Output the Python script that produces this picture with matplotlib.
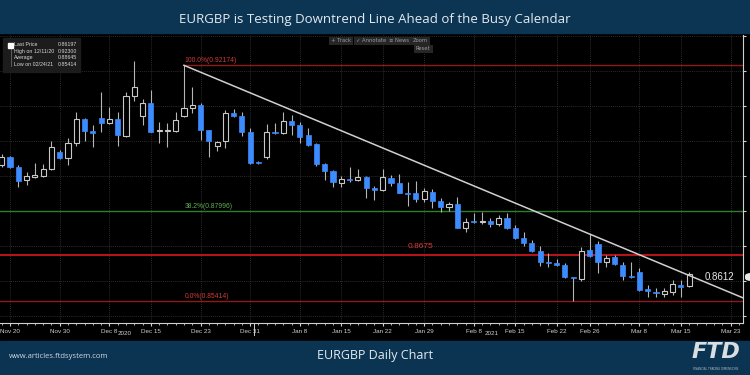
# EURGBP daily candles with fib levels and the downtrend line (FTD style screenshot)

import matplotlib
matplotlib.use('Agg')
import matplotlib.pyplot as plt
from matplotlib.patches import Rectangle, FancyBboxPatch
import matplotlib.transforms as mtransforms
import numpy as np
import pandas as pd

# one candle per business day, first one is 2020-11-19
start_day = '2020-11-19'
opens = [.8932, .8955, .8926, .8889, .8897, .8900, .8920, .8969, .8952, .8995,
         .9064, .9029, .9066, .9052, .9064, .9015, .9130, .9072, .9109, .9029,
         .9029, .9029, .9072, .9095, .9104, .9032, .8986, .9001, .9081, .9072,
         .9026, .8940, .8955, .9026, .9024, .9058, .9046, .9018, .8992, .8935,
         .8915, .8880, .8892, .8889, .8897, .8866, .8860, .8895, .8880, .8852,
         .8852, .8834, .8854, .8829, .8812, .8820, .8751, .8771, .8769, .8771,
         .8763, .8780, .8751, .8723, .8708, .8685, .8654, .8651, .8645, .8611,
         .8605, .8688, .8706, .8654, .8668, .8645, .8614, .8625, .8577, .8568,
         .8562, .8568, .8588, .8585]
highs = [.8963, .8958, .8932, .8912, .8938, .8935, .9001, .8975, .9009, .9084,
         .9066, .9046, .9141, .9098, .9084, .9141, .9230, .9121, .9147, .9055,
         .9052, .9084, .92174, .9155, .9109, .9032, .9001, .9089, .9092, .9084,
         .9038, .8943, .9049, .9052, .9084, .9075, .9055, .9038, .8995, .8938,
         .8918, .8900, .8926, .8920, .8900, .8872, .8920, .8903, .8906, .8883,
         .8886, .8866, .8863, .8837, .8826, .8840, .8780, .8794, .8797, .8780,
         .8789, .8794, .8760, .8740, .8717, .8700, .8680, .8663, .8651, .8611,
         .8697, .8734, .8714, .8674, .8674, .8654, .8654, .8637, .8588, .8579,
         .8579, .8602, .8602, .8625]
lows = [.8926, .8923, .8869, .8875, .8895, .8897, .8917, .8949, .8932, .8986,
        .9001, .8983, .9026, .9049, .8986, .9012, .9115, .9046, .9026, .8995,
        .8983, .9026, .9069, .9081, .9003, .8955, .8972, .8980, .9069, .9015,
        .8935, .8935, .8949, .9021, .9021, .9018, .8995, .8986, .8929, .8889,
        .8869, .8869, .8883, .8886, .8837, .8832, .8857, .8872, .8852, .8814,
        .8826, .8826, .8809, .8797, .8800, .8751, .8740, .8766, .8763, .8754,
        .8757, .8748, .8720, .8700, .8683, .8642, .8640, .8642, .8608, .85414,
        .8600, .8668, .8622, .8640, .8645, .8602, .8608, .8571, .8554, .8554,
        .8554, .8559, .8554, .8582]
closes = [.8955, .8926, .8886, .8900, .8903, .8920, .8983, .8952, .8995, .9064,
          .9029, .9024, .9052, .9064, .9018, .9130, .9155, .9109, .9026, .9032,
          .9032, .9061, .9095, .9104, .9032, .9001, .8998, .9081, .9072, .9026,
          .8938, .8938, .9026, .9024, .9058, .9046, .9012, .8989, .8935, .8915,
          .8883, .8892, .8889, .8897, .8866, .8860, .8897, .8880, .8852, .8849,
          .8834, .8857, .8829, .8812, .8820, .8751, .8769, .8769, .8771, .8763,
          .8780, .8751, .8723, .8708, .8685, .8654, .8651, .8645, .8611, .8608,
          .8685, .8671, .8654, .8665, .8648, .8614, .8611, .8574, .8571, .8565,
          .8571, .8591, .8582, .86197]

tick_dates = ['2020-11-20', '2020-11-30', '2020-12-08', '2020-12-15', '2020-12-23',
              '2020-12-31', '2021-01-08', '2021-01-15', '2021-01-22', '2021-01-29',
              '2021-02-08', '2021-02-15', '2021-02-22', '2021-02-26', '2021-03-08',
              '2021-03-15', '2021-03-23']
tick_labels = ['Nov 20', 'Nov 30', 'Dec 8', 'Dec 15', 'Dec 23', 'Dec 31', 'Jan 8',
               'Jan 15', 'Jan 22', 'Jan 29', 'Feb 8', 'Feb 15', 'Feb 22', 'Feb 26',
               'Mar 8', 'Mar 15', 'Mar 23']

fib_start = '2020-12-21'
fib_levels = [0.92174, 0.87996, 0.85414]
fib_labels = ['100.0%(0.92174)', '38.2%(0.87996)', '0.0%(0.85414)']
resistance = 0.8675
trend_dates = ['2020-12-21', '2021-03-25']
trend_prices = [0.92174, 0.85462]
last_label = 0.8612

legend_names = ['Last Price', 'High on 12/11/20', 'Average', 'Low on 02/24/21']
legend_values = ['0.86197', '0.92300', '0.88645', '0.85414']

days = pd.bdate_range(start_day, '2021-03-31')
pos = np.arange(len(opens))
def day_pos(d):
    return days.get_loc(pd.Timestamp(d))

W, H = 750, 375
fig = plt.figure(figsize=(7.5, 3.75), dpi=100)
fig.patch.set_facecolor('black')

# banners
fig.patches.append(Rectangle((0, 1 - 33 / H), 1, 33 / H, transform=fig.transFigure,
                             color='#0c3553', zorder=0))
grad = fig.add_axes([0, 1 - 34 / H, 1, 9 / H])
grad.imshow(np.linspace(0, 1, 20).reshape(-1, 1), aspect='auto',
            cmap=matplotlib.colors.LinearSegmentedColormap.from_list('g', ['#0c3553', '#4f7f99']),
            extent=[0, 1, 0, 1], origin='upper')
grad.axis('off')
fig.patches.append(Rectangle((0, 0), 1, 34 / H, transform=fig.transFigure,
                             color='#0b3452', zorder=0))

ax = fig.add_axes([0, 1 - 323 / H, 743 / W, 288 / H])
ax.set_facecolor('black')

up = np.array(closes) >= np.array(opens)
body_lo = np.minimum(opens, closes)
body_h = np.maximum(np.abs(np.array(closes) - np.array(opens)), 0.00012)

ax.vlines(pos, lows, highs, color='#b5b5b5', lw=0.8, zorder=3)
ax.bar(pos[up], body_h[up], bottom=body_lo[up], width=0.62, facecolor='black',
       edgecolor='#c8c8c8', linewidth=0.8, zorder=4)
ax.bar(pos[~up], body_h[~up], bottom=body_lo[~up], width=0.62, facecolor='#3d8cff',
       edgecolor='#3d8cff', linewidth=0.5, zorder=4)

# fib levels
fx = day_pos(fib_start)
fib_colors = ['#8e1b1b', '#2f7d2f', '#8e1b1b']
label_colors = ['#d23a3a', '#5db04e', '#d23a3a']
for lvl, lab, c, lc in zip(fib_levels, fib_labels, fib_colors, label_colors):
    x0 = fx if lvl == fib_levels[0] else -5
    ax.plot([x0, 100], [lvl, lvl], color=c, lw=1.0, zorder=2)
    ax.text(fx + 0.1, lvl + 0.0003, lab, color=lc, fontsize=4.9,
            family='Liberation Sans', va='bottom', ha='left', zorder=5)
ax.plot([fx, fx], [highs[fx], fib_levels[0]], color='#c8c8c8', lw=0.8, zorder=3)

ax.axhline(resistance, color='#c8161d', lw=1.3, zorder=2)
ax.text(49, resistance + 0.0013, '0.8675', color='#e03a3a', fontsize=6,
        family='Liberation Sans', ha='left', va='bottom', zorder=5)

# downtrend line
ax.plot([day_pos(d) for d in trend_dates], trend_prices, color='#d0d0d0', lw=1.1, zorder=5)
ax.text(84.9, last_label, '0.8612', color='#e8e8e8', fontsize=7,
        family='Liberation Sans', ha='left', va='center', zorder=6)

ax.set_xlim(-0.21, 89.5)
ax.set_ylim(0.84791, 0.93042)

tpos = [day_pos(d) for d in tick_dates]
ax.set_xticks(tpos)
ax.set_xticklabels(tick_labels)
ax.set_xticks(np.arange(0, 90), minor=True)
ax.set_yticks(np.arange(0.85, 0.935, 0.01))
ax.yaxis.tick_right()
ax.tick_params(axis='y', labelright=False)
ax.grid(True, color='#3a3a3a', ls=(0, (1, 1.5)), lw=0.6, zorder=1)
for s in ['top', 'left']:
    ax.spines[s].set_visible(False)
ax.spines['right'].set_color('#d0d0d0')
ax.spines['bottom'].set_color('#d0d0d0')
ax.spines['right'].set_linewidth(0.8)
ax.spines['bottom'].set_linewidth(0.8)
ax.tick_params(axis='x', which='major', colors='#d0d0d0', labelsize=4.5, length=2.5, pad=1.5)
ax.tick_params(axis='x', which='minor', colors='#d0d0d0', length=1.2)
ax.tick_params(axis='y', colors='#d0d0d0', length=2.5)
for lab in ax.get_xticklabels():
    lab.set_family('Liberation Sans')

# year labels and year separator under the axis
tr = mtransforms.blended_transform_factory(ax.transData, ax.transAxes)
ax.text(14.9, -0.036, '2020', transform=tr, color='#d0d0d0', fontsize=4.5,
        family='Liberation Sans', ha='center', va='center')
ax.text(59.2, -0.036, '2021', transform=tr, color='#d0d0d0', fontsize=4.5,
        family='Liberation Sans', ha='center', va='center')
ax.plot([30.5, 30.5], [0, -0.04], transform=tr, color='#d0d0d0', lw=0.7, clip_on=False)

# last price marker on right axis (cut by the picture edge)
fig.patches.append(FancyBboxPatch((745 / W, 1 - 281 / H), 10 / W, 8 / H,
                                  boxstyle='round,pad=0,rounding_size=0.008',
                                  transform=fig.transFigure, fc='#e8e8e8', ec='none', zorder=6))

# legend box
fig.patches.append(Rectangle((3 / W, 1 - 72 / H), 77 / W, 34 / H, transform=fig.transFigure,
                             color='#1c1c1c', zorder=5))
rows_y = [45, 51.5, 57.5, 64]
for i, (n, v) in enumerate(zip(legend_names, legend_values)):
    fig.text(14 / W, 1 - rows_y[i] / H, n, color='#d8d8d8', fontsize=3.8,
             family='Liberation Sans', va='center', zorder=6)
    fig.text(58 / W, 1 - rows_y[i] / H, v, color='#d8d8d8', fontsize=3.8,
             family='Liberation Sans', va='center', zorder=6)
fig.patches.append(Rectangle((8 / W, 1 - 47.5 / H), 5 / W, 5 / H, transform=fig.transFigure,
                             color='white', zorder=6))
fig.lines.append(plt.Line2D([10.5 / W, 10.5 / W], [1 - 49 / H, 1 - 66 / H],
                            transform=fig.transFigure, color='#777777', lw=0.5, zorder=6))

# toolbar
for txt, x, y in [('+ Track', 331, 41), ('✓ Annotate', 356, 41), ('≡ News', 389, 41),
                  ('Zoom', 413, 41), ('Reset', 416, 49)]:
    fig.text(x / W, 1 - y / H, txt, color='#9a9a9a', fontsize=3.8, family='DejaVu Sans',
             va='center', ha='left', zorder=6,
             bbox=dict(boxstyle='square,pad=0.35', fc='#262626', ec='none'))

# banner texts
fig.text(0.5, 1 - 19 / H, 'EURGBP is Testing Downtrend Line Ahead of the Busy Calendar',
         color='#e3ebf0', fontsize=9.5, family='Open Sans', ha='center', va='center')
fig.text(0.5, 1 - 355 / H, 'EURGBP Daily Chart', color='#e3ebf0', fontsize=9,
         family='Open Sans', ha='center', va='center')
fig.text(9 / W, 1 - 357 / H, 'www.articles.ftdsystem.com', color='#d0d8de', fontsize=5.5,
         family='Open Sans', ha='left', va='center')
fig.text(716 / W, 1 - 352 / H, 'FTD', color='#d9dee3', fontsize=16, family='DejaVu Sans',
         weight='bold', style='italic', ha='center', va='center')
fig.text(716 / W, 1 - 369 / H, 'FINANCIAL TRADING DIMENSIONS', color='#aab5be', fontsize=2,
         family='DejaVu Sans', ha='center', va='center')

fig.savefig('out.png', dpi=100, facecolor=fig.get_facecolor())
